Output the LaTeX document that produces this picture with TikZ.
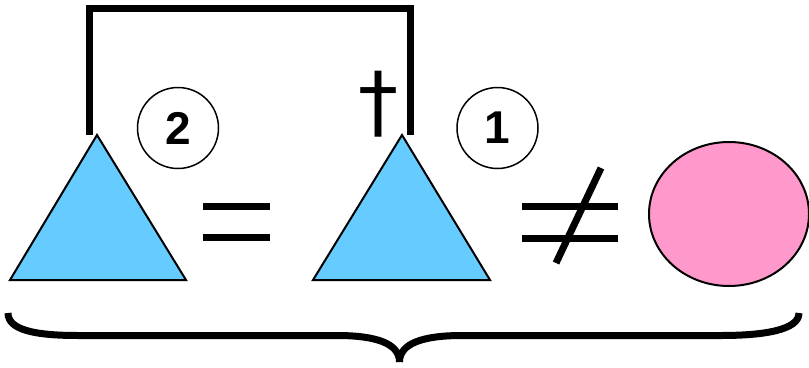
\documentclass[tikz,border=0pt]{standalone}
\usepackage{fontspec}
\setmainfont{Liberation Sans}
\newfontfamily\dagfont{DejaVu Sans}
\definecolor{triblue}{HTML}{66CCFF}
\definecolor{ovalpink}{HTML}{FF99CC}
\begin{document}
\begin{tikzpicture}[x=1pt,y=-1pt,
  tri/.style={draw=black,line width=2pt,fill=triblue,line join=miter},
  heavy/.style={draw=black,line width=7pt},
  numcirc/.style={circle,draw=black,line width=1.5pt,minimum size=81pt,inner sep=0pt,
    font=\bfseries\fontsize{46}{46}\selectfont},
  daggertxt/.style={inner sep=0pt,font=\dagfont\fontsize{80}{80}\selectfont},
  bracelike/.style={draw=black,line width=7pt,line cap=butt}]
\useasboundingbox (0,0) rectangle (809,367);
% triangles
\coordinate (t1a) at (97,135);
\coordinate (t1l) at (10,280);
\coordinate (t1r) at (186,280);
\coordinate (t2a) at (402,135);
\coordinate (t2l) at (313,280);
\coordinate (t2r) at (490,280);
\draw[tri] (t1a) -- (t1l) -- (t1r) -- cycle;
\draw[tri] (t2a) -- (t2l) -- (t2r) -- cycle;
% bracket
\coordinate (bl) at (89.5,135);
\coordinate (br) at (410,135);
\coordinate (blt) at (89.5,8);
\coordinate (brt) at (410,8);
\draw[heavy,line join=miter] (bl) -- (blt) -- (brt) -- (br);
% numbered circles
\node[numcirc] (c2) at (178,128) {2};
\node[numcirc] (c1) at (497.5,128) {1};
% dagger
\node[daggertxt] (dg) at (378,104) {†};
% equals
\coordinate (e1a) at (203,206); \coordinate (e1b) at (270,206);
\coordinate (e2a) at (203,237.5); \coordinate (e2b) at (270,237.5);
\draw[heavy] (e1a) -- (e1b);
\draw[heavy] (e2a) -- (e2b);
% not equal
\coordinate (n1a) at (522,206); \coordinate (n1b) at (618,206);
\coordinate (n2a) at (522,238); \coordinate (n2b) at (618,238);
\coordinate (nsa) at (556,263); \coordinate (nsb) at (601,168);
\draw[heavy] (n1a) -- (n1b);
\draw[heavy] (n2a) -- (n2b);
\draw[heavy] (nsa) -- (nsb);
% ellipse
\draw[draw=black,line width=2pt,fill=ovalpink] (729,214) ellipse [x radius=80, y radius=72];
% brace
\coordinate (bL) at (8,313);
\coordinate (bR) at (799,313);
\coordinate (bM) at (399.5,362);
\draw[bracelike] (bL) .. controls (8,330) and (35,335.5) .. (78,335.5)
  -- (337,335.5) .. controls (375,335.5) and (399.5,343) .. (bM);
\draw[bracelike] (bR) .. controls (799,330) and (764,335.5) .. (721,335.5)
  -- (462,335.5) .. controls (424,335.5) and (399.5,343) .. (bM);
\end{tikzpicture}
\end{document}
